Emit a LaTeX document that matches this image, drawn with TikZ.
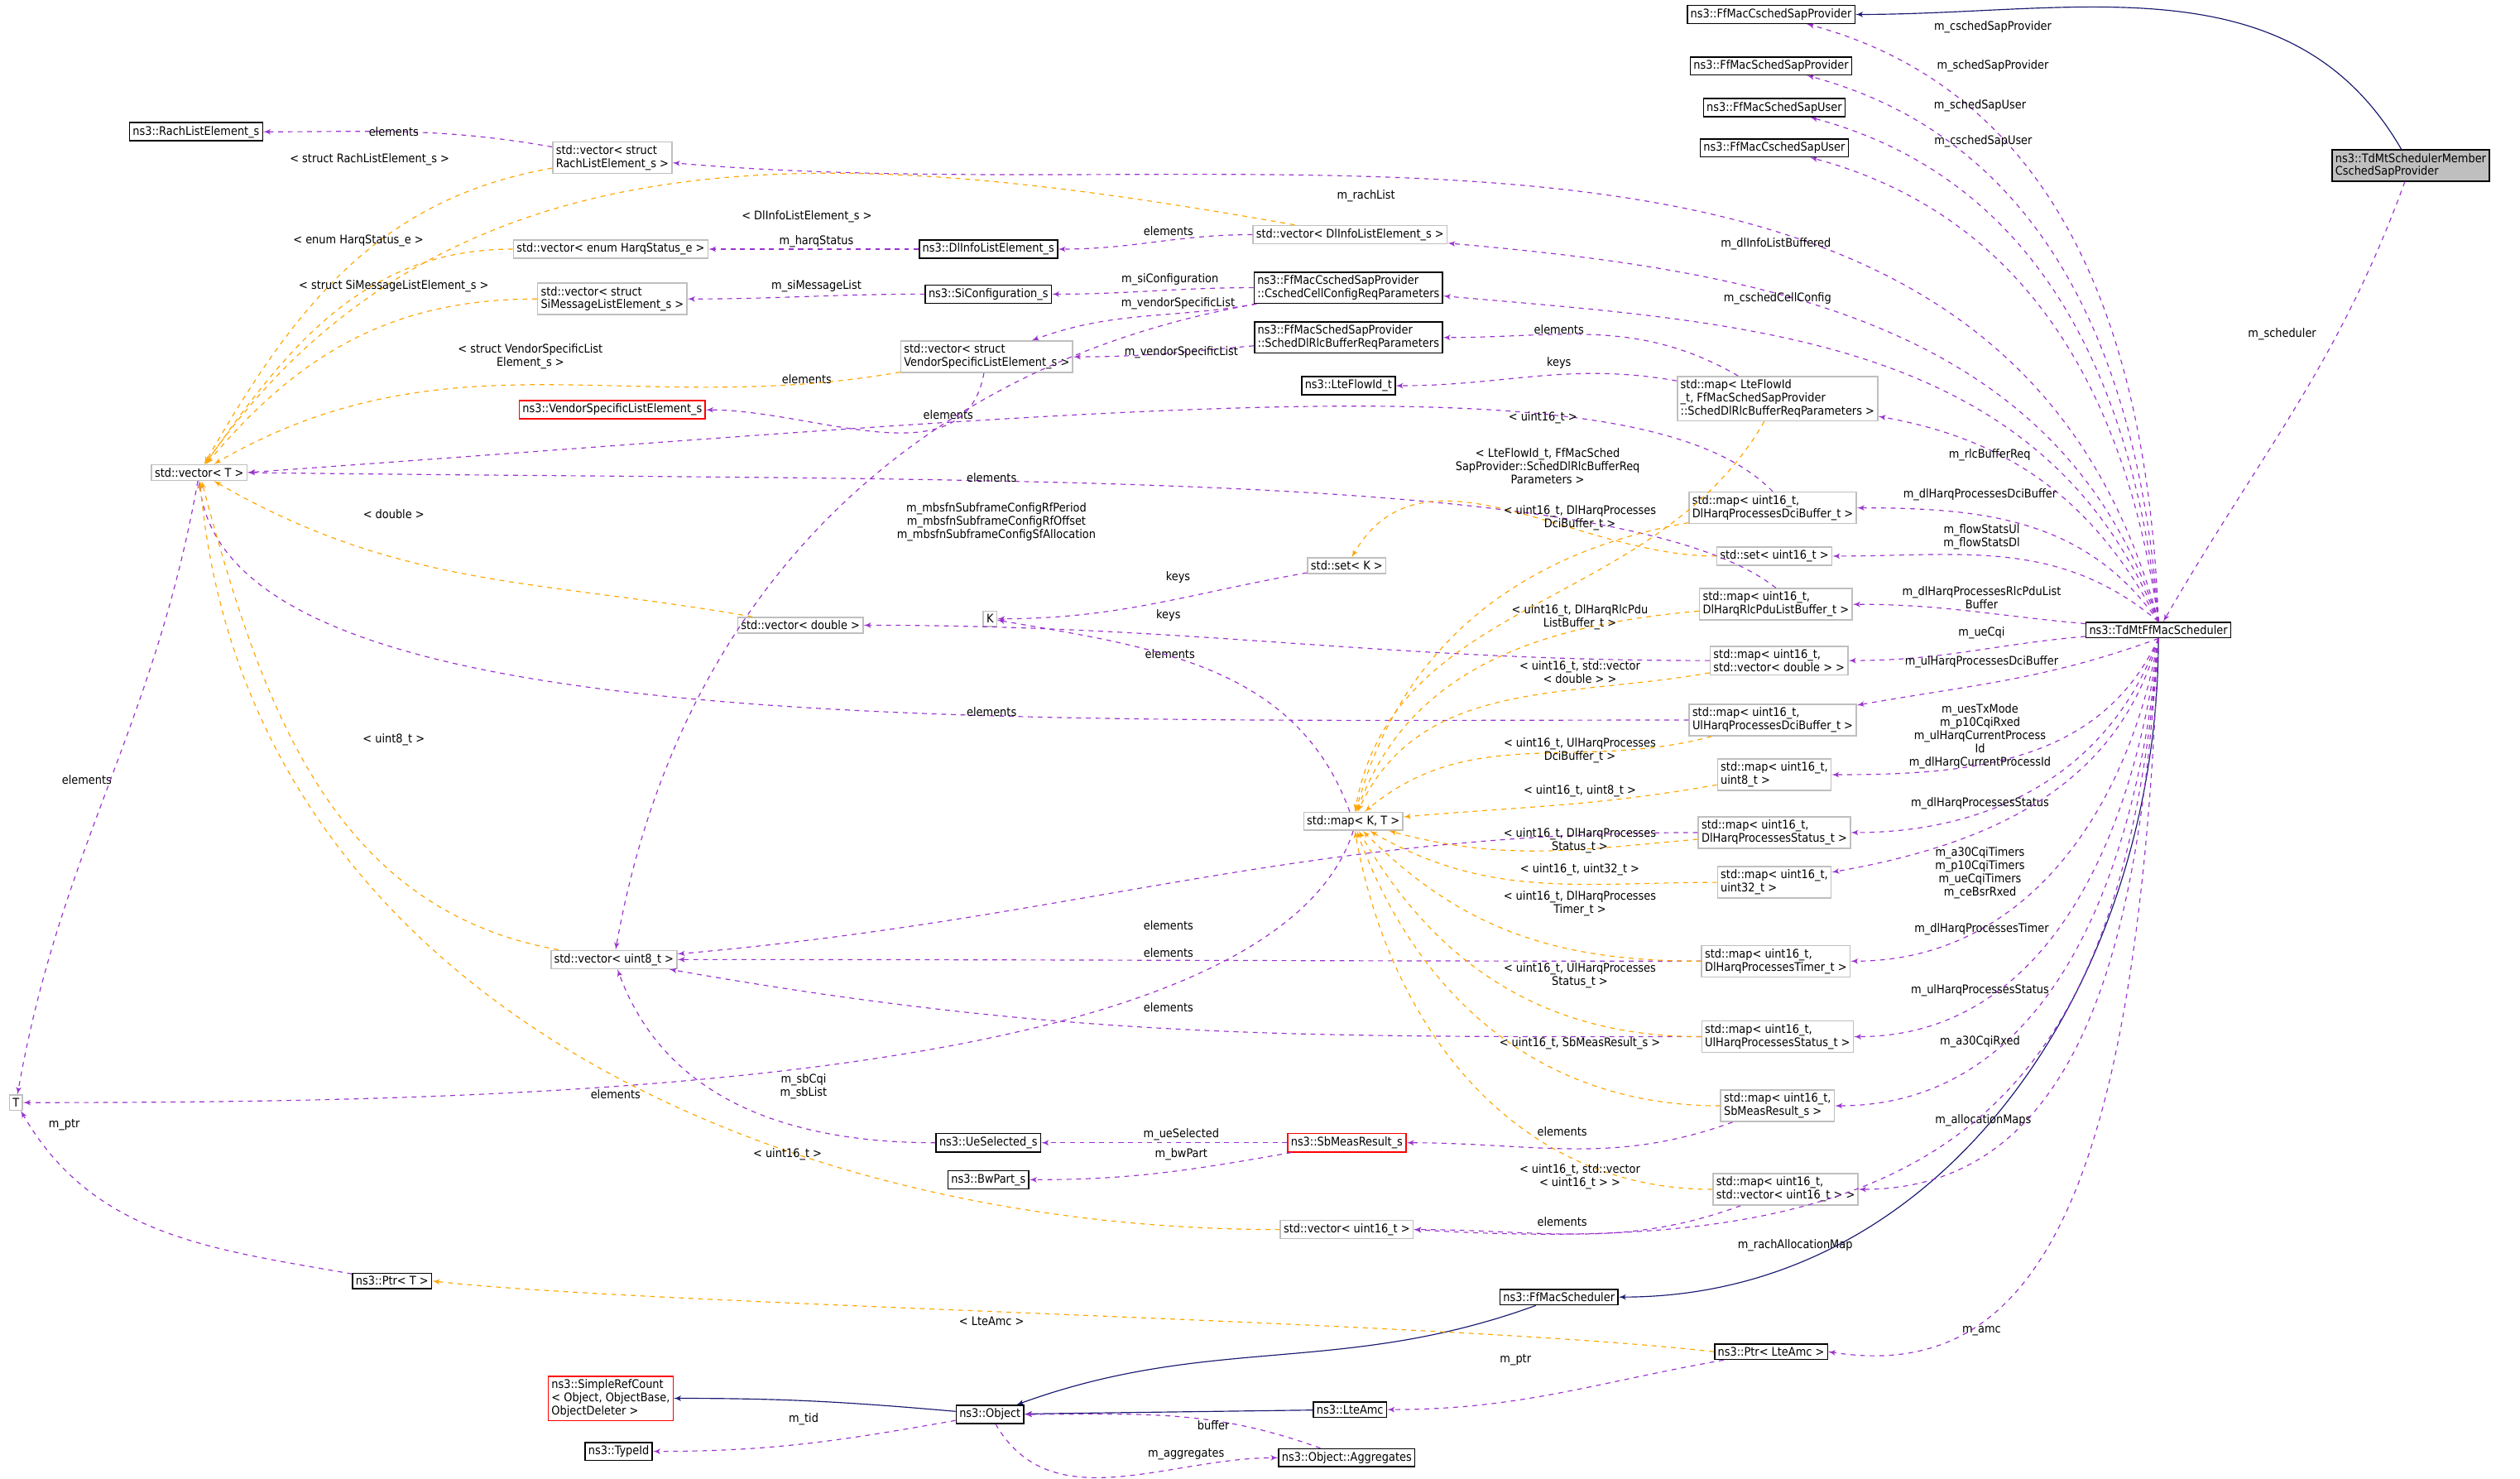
\documentclass[tikz,border=0pt]{standalone}
\usepackage{fontspec}
\setmainfont{DejaVu Sans Condensed}
\usepackage{tikz}
\usetikzlibrary{arrows}
\definecolor{usecol}{HTML}{9A32CD}
\definecolor{tplcol}{HTML}{FFA500}
\definecolor{inhcol}{HTML}{191970}
\definecolor{boxgray}{HTML}{BFBFBF}

\begin{document}
\begin{tikzpicture}[x=1pt,y=-1pt,font=\fontsize{7.4}{8.2}\selectfont]
    \tikzset{cls/.style = {draw,thick,align=left,inner sep=2pt}}
    \tikzset{tpl/.style = {draw=boxgray,thick,align=left,inner sep=2pt}}
    \tikzset{bad/.style = {draw=red,thick,align=left,inner sep=2pt}}
    \tikzset{use/.style = {->,> = latex',usecol,dashed,semithick}}
    \tikzset{inst/.style = {->,> = latex',tplcol,dashed,semithick}}
    \tikzset{inh/.style = {->,> = latex',inhcol,semithick}}
    \tikzset{lbl/.style = {black,align=center,inner sep=0pt}}
    \useasboundingbox (0,0) rectangle (1568,919.7);
    % classes on the right
    \node[cls] (cschedprov) at (1102,9) {ns3::FfMacCschedSapProvider};
    \node[cls] (schedprov) at (1102,41) {ns3::FfMacSchedSapProvider};
    \node[cls] (scheduser) at (1104,67) {ns3::FfMacSchedSapUser};
    \node[cls] (cscheduser) at (1104,92) {ns3::FfMacCschedSapUser};
    \node[cls,fill=boxgray] (member) at (1500,103) {ns3::TdMtSchedulerMember\\CschedSapProvider};
    \node[cls] (tdmt) at (1343,392) {ns3::TdMtFfMacScheduler};
    \node[cls] (ffsched) at (970,807) {ns3::FfMacScheduler};
    \node[cls] (ptramc) at (1102,841) {ns3::Ptr< LteAmc >};
    \node[cls] (lteamc) at (840,877) {ns3::LteAmc};
    \node[cls] (object) at (616,880) {ns3::Object};
    \node[bad] (refcount) at (380,870) {ns3::SimpleRefCount\\< Object, ObjectBase,\\ ObjectDeleter >};
    \node[cls] (typeid) at (385,903) {ns3::TypeId};
    \node[cls] (aggr) at (838,907) {ns3::Object::Aggregates};
    \node[cls] (ptrt) at (244,797) {ns3::Ptr< T >};
    \node[tpl] (t) at (10,686) {T};
    \node[tpl] (vect) at (124,294) {std::vector< T >};
    % left and middle
    \node[cls] (rachel) at (122,82) {ns3::RachListElement\_s};
    \node[tpl] (vecrach) at (381,98) {std::vector< struct\\ RachListElement\_s >};
    \node[tpl] (vecdlinfo) at (840,146) {std::vector< DlInfoListElement\_s >};
    \node[tpl] (vecharq) at (380,155) {std::vector< enum HarqStatus\_e >};
    \node[cls] (dlinfo) at (615,155) {ns3::DlInfoListElement\_s};
    \node[tpl] (vecsimsg) at (381,186) {std::vector< struct\\ SiMessageListElement\_s >};
    \node[cls] (siconf) at (615,183) {ns3::SiConfiguration\_s};
    \node[cls] (cellconf) at (839,179) {ns3::FfMacCschedSapProvider\\::CschedCellConfigReqParameters};
    \node[cls] (dlrlcreq) at (839,210) {ns3::FfMacSchedSapProvider\\::SchedDlRlcBufferReqParameters};
    \node[tpl] (vecvendor) at (614,222) {std::vector< struct\\ VendorSpecificListElement\_s >};
    \node[bad] (vendor) at (381,255) {ns3::VendorSpecificListElement\_s};
    \node[cls] (flowid) at (839,240) {ns3::LteFlowId\_t};
    \node[tpl] (mapflow) at (1106,248) {std::map< LteFlowId\\\_t, FfMacSchedSapProvider\\::SchedDlRlcBufferReqParameters >};
    \node[tpl] (mapdldci) at (1103,316) {std::map< uint16\_t,\\ DlHarqProcessesDciBuffer\_t >};
    \node[tpl] (set16) at (1104,346) {std::set< uint16\_t >};
    \node[tpl] (setk) at (838,352) {std::set< K >};
    \node[tpl] (k) at (616,385) {K};
    \node[tpl] (maprlcpdu) at (1105,376) {std::map< uint16\_t,\\ DlHarqRlcPduListBuffer\_t >};
    \node[tpl] (vecdouble) at (498,389) {std::vector< double >};
    \node[tpl] (mapvecdbl) at (1107,411) {std::map< uint16\_t,\\ std::vector< double > >};
    \node[tpl] (mapuldci) at (1103,448) {std::map< uint16\_t,\\ UlHarqProcessesDciBuffer\_t >};
    \node[tpl] (map8) at (1104,482) {std::map< uint16\_t,\\ uint8\_t >};
    \node[tpl] (mapkt) at (842,511) {std::map< K, T >};
    \node[tpl] (mapdlstat) at (1104,518) {std::map< uint16\_t,\\ DlHarqProcessesStatus\_t >};
    \node[tpl] (map32) at (1104,549) {std::map< uint16\_t,\\ uint32\_t >};
    \node[tpl] (mapdltimer) at (1105,598) {std::map< uint16\_t,\\ DlHarqProcessesTimer\_t >};
    \node[tpl] (mapulstat) at (1106,645) {std::map< uint16\_t,\\ UlHarqProcessesStatus\_t >};
    \node[tpl] (mapsb) at (1106,688) {std::map< uint16\_t,\\ SbMeasResult\_s >};
    \node[tpl] (vec8) at (382,597) {std::vector< uint8\_t >};
    \node[cls] (uesel) at (615,711) {ns3::UeSelected\_s};
    \node[bad] (sbmeas) at (838,711) {ns3::SbMeasResult\_s};
    \node[cls] (bwpart) at (615,734) {ns3::BwPart\_s};
    \node[tpl] (mapvec16) at (1111,740) {std::map< uint16\_t,\\ std::vector< uint16\_t > >};
    \node[tpl] (vec16) at (838,765) {std::vector< uint16\_t >};
    % inheritance
    \draw[inh] (member) to[out=120,in=0] (cschedprov);
    \draw[inh] (tdmt.south) to[out=-90,in=0] (ffsched);
    \draw[inh] (ffsched) to[out=200,in=20] (object);
    \draw[inh] (lteamc) -- (object);
    \draw[inh] (object) to[out=175,in=0] (refcount);
    % members of the scheduler
    \draw[use] (member) to[out=-110,in=60] (tdmt) node[lbl] at (1420,208) {m\_scheduler};
    \draw[use] (tdmt.north) to[out=92,in=-15] (cschedprov) node[lbl] at (1240,17) {m\_cschedSapProvider};
    \draw[use] (tdmt.north) to[out=94,in=-15] (schedprov) node[lbl] at (1240,41) {m\_schedSapProvider};
    \draw[use] (tdmt.north) to[out=96,in=-15] (scheduser) node[lbl] at (1232,66) {m\_schedSapUser};
    \draw[use] (tdmt.north) to[out=98,in=-15] (cscheduser) node[lbl] at (1234,88) {m\_cschedSapUser};
    \draw[use] (tdmt.north) to[out=105,in=-5] (vecrach) node[lbl] at (850,122) {m\_rachList};
    \draw[use] (tdmt.north) to[out=108,in=-5] (vecdlinfo) node[lbl] at (1105,152) {m\_dlInfoListBuffered};
    \draw[use] (tdmt.north) to[out=112,in=-5] (cellconf) node[lbl] at (1106,186) {m\_cschedCellConfig};
    \draw[use] (tdmt.north) to[out=118,in=-10] (mapflow) node[lbl] at (1238,283) {m\_rlcBufferReq};
    \draw[use] (tdmt.north) to[out=125,in=0] (mapdldci) node[lbl] at (1232,308) {m\_dlHarqProcessesDciBuffer};
    \draw[use] (tdmt.north) to[out=140,in=0] (set16) node[lbl] at (1233,334) {m\_flowStatsUl\\m\_flowStatsDl};
    \draw[use] (tdmt) to[out=175,in=0] (maprlcpdu) node[lbl] at (1233,372) {m\_dlHarqProcessesRlcPduList\\Buffer};
    \draw[use] (tdmt) to[out=185,in=0] (mapvecdbl) node[lbl] at (1233,394) {m\_ueCqi};
    \draw[use] (tdmt.south) to[out=200,in=10] (mapuldci) node[lbl] at (1233,412) {m\_ulHarqProcessesDciBuffer};
    \draw[use] (tdmt.south) to[out=-115,in=0] (map8) node[lbl] at (1232,458) {m\_uesTxMode\\m\_p10CqiRxed\\m\_ulHarqCurrentProcess\\Id\\m\_dlHarqCurrentProcessId};
    \draw[use] (tdmt.south) to[out=-110,in=0] (mapdlstat) node[lbl] at (1232,500) {m\_dlHarqProcessesStatus};
    \draw[use] (tdmt.south) to[out=-105,in=10] (map32) node[lbl] at (1232,543) {m\_a30CqiTimers\\m\_p10CqiTimers\\m\_ueCqiTimers\\m\_ceBsrRxed};
    \draw[use] (tdmt.south) to[out=-100,in=0] (mapdltimer) node[lbl] at (1233,578) {m\_dlHarqProcessesTimer};
    \draw[use] (tdmt.south) to[out=-97,in=0] (mapulstat) node[lbl] at (1232,616) {m\_ulHarqProcessesStatus};
    \draw[use] (tdmt.south) to[out=-95,in=0] (mapsb) node[lbl] at (1232,648) {m\_a30CqiRxed};
    \draw[use] (tdmt.south) to[out=-94,in=0] (mapvec16) node[lbl] at (1234,697) {m\_allocationMaps};
    \draw[use] (tdmt.south) .. controls (1320,700) and (1200,785) .. (vec16.east) node[lbl] at (1117,775) {m\_rachAllocationMap};
    \draw[use] (tdmt.south) .. controls (1330,760) and (1260,860) .. (ptramc.east) node[lbl] at (1233,828) {m\_amc};
    % other members
    \draw[use] (vecrach) to[out=170,in=0] (rachel) node[lbl] at (245,82) {elements};
    \draw[use] (vecdlinfo) to[out=180,in=0] (dlinfo) node[lbl] at (727,144) {elements};
    \draw[use] (dlinfo) to[out=180,in=0] (vecharq) node[lbl] at (508,150) {m\_harqStatus};
    \draw[use] (siconf) to[out=180,in=0] (vecsimsg) node[lbl] at (508,178) {m\_siMessageList};
    \draw[use] (cellconf) to[out=180,in=0] (siconf) node[lbl] at (728,174) {m\_siConfiguration};
    \draw[use] (cellconf) to[out=190,in=20] (vecvendor) node[lbl] at (733,189) {m\_vendorSpecificList};
    \draw[use] (dlrlcreq) to[out=185,in=0] (vecvendor) node[lbl] at (735,219) {m\_vendorSpecificList};
    \draw[use] (vecvendor) to[out=-100,in=0] (vendor) node[lbl] at (502,236) {elements};
    \draw[use] (mapflow) to[out=150,in=0] (dlrlcreq) node[lbl] at (970,205) {elements};
    \draw[use] (mapflow) to[out=170,in=0] (flowid) node[lbl] at (970,226) {keys};
    \draw[use] (mapdldci.north) .. controls (1020,220) and (700,255) .. (vect.east) node[lbl] at (590,258) {elements};
    \draw[use] (maprlcpdu.north) .. controls (1010,290) and (600,300) .. (vect.east) node[lbl] at (617,297) {elements};
    \draw[use] (mapvecdbl) to[out=180,in=0] (vecdouble) node[lbl] at (728,407) {elements};
    \draw[use] (mapuldci.west) .. controls (600,448) and (140,460) .. (vect.south) node[lbl] at (617,443) {elements};
    \draw[use] (setk) to[out=190,in=0] (k) node[lbl] at (733,359) {keys};
    \draw[use] (mapkt) to[out=110,in=-10] (k) node[lbl] at (727,383) {keys};
    \draw[use] (mapkt.south) .. controls (790,680) and (300,686) .. (t.east) node[lbl] at (383,681) {elements};
    \draw[use] (vect) to[out=-100,in=80] (t) node[lbl] at (54,485) {elements};
    \draw[use] (ptrt) to[out=170,in=-60] (t) node[lbl] at (40,700) {m\_ptr};
    \draw[use] (cellconf) to[out=190,in=80] (vec8) node[lbl] at (620,325) {m\_mbsfnSubframeConfigRfPeriod\\m\_mbsfnSubframeConfigRfOffset\\m\_mbsfnSubframeConfigSfAllocation};
    \draw[use] (mapdlstat) to[out=180,in=5] (vec8) node[lbl] at (727,576) {elements};
    \draw[use] (mapdltimer) to[out=180,in=0] (vec8) node[lbl] at (727,593) {elements};
    \draw[use] (mapulstat) to[out=180,in=-10] (vec8) node[lbl] at (727,627) {elements};
    \draw[use] (uesel) to[out=180,in=-70] (vec8) node[lbl] at (500,676) {m\_sbCqi\\m\_sbList};
    \draw[use] (mapsb) to[out=-160,in=0] (sbmeas) node[lbl] at (972,704) {elements};
    \draw[use] (sbmeas) to[out=180,in=0] (uesel) node[lbl] at (735,706) {m\_ueSelected};
    \draw[use] (sbmeas) to[out=190,in=0] (bwpart) node[lbl] at (735,718) {m\_bwPart};
    \draw[use] (mapvec16) to[out=-160,in=0] (vec16) node[lbl] at (972,760) {elements};
    \draw[use] (ptramc) to[out=190,in=0] (lteamc) node[lbl] at (943,846) {m\_ptr};
    \draw[use] (object) to[out=190,in=0] (typeid) node[lbl] at (500,883) {m\_tid};
    \draw[use] (object) to[out=-60,in=180] (aggr) node[lbl] at (738,905) {m\_aggregates};
    \draw[use] (aggr) to[out=160,in=0] (object) node[lbl] at (755,887) {buffer};
    % template instances
    \draw[inst] (vecrach) to[out=190,in=60] (vect) node[lbl] at (230,99) {< struct RachListElement\_s >};
    \draw[inst] (vecdlinfo) to[out=170,in=55] (vect) node[lbl] at (502,135) {< DlInfoListElement\_s >};
    \draw[inst] (vecharq) to[out=180,in=55] (vect) node[lbl] at (223,150) {< enum HarqStatus\_e >};
    \draw[inst] (vecsimsg) to[out=180,in=50] (vect) node[lbl] at (245,178) {< struct SiMessageListElement\_s >};
    \draw[inst] (vecvendor) to[out=190,in=30] (vect) node[lbl] at (330,222) {< struct VendorSpecificList\\Element\_s >};
    \draw[inst] (vecdouble) to[out=170,in=-30] (vect) node[lbl] at (245,320) {< double >};
    \draw[inst] (vec8) to[out=170,in=-75] (vect) node[lbl] at (245,460) {< uint8\_t >};
    \draw[inst] (vec16) to[out=180,in=-85] (vect) node[lbl] at (490,718) {< uint16\_t >};
    \draw[inst] (ptramc.west) .. controls (900,822) and (400,812) .. (ptrt.east) node[lbl] at (617,822) {< LteAmc >};
    \draw[inst] (set16) to[out=180,in=60] (setk) node[lbl] at (960,260) {< uint16\_t >};
    \draw[inst] (mapflow) to[out=-120,in=80] (mapkt) node[lbl] at (963,290) {< LteFlowId\_t, FfMacSched\\SapProvider::SchedDlRlcBufferReq\\Parameters >};
    \draw[inst] (mapdldci) to[out=190,in=75] (mapkt) node[lbl] at (983,322) {< uint16\_t, DlHarqProcesses\\DciBuffer\_t >};
    \draw[inst] (maprlcpdu) to[out=185,in=70] (mapkt) node[lbl] at (983,384) {< uint16\_t, DlHarqRlcPdu\\ListBuffer\_t >};
    \draw[inst] (mapvecdbl) to[out=190,in=65] (mapkt) node[lbl] at (983,418) {< uint16\_t, std::vector\\< double > >};
    \draw[inst] (mapuldci) to[out=195,in=40] (mapkt) node[lbl] at (983,467) {< uint16\_t, UlHarqProcesses\\DciBuffer\_t >};
    \draw[inst] (map8) to[out=190,in=5] (mapkt) node[lbl] at (983,492) {< uint16\_t, uint8\_t >};
    \draw[inst] (mapdlstat) to[out=185,in=-15] (mapkt) node[lbl] at (983,523) {< uint16\_t, DlHarqProcesses\\Status\_t >};
    \draw[inst] (map32) to[out=180,in=-30] (mapkt) node[lbl] at (983,541) {< uint16\_t, uint32\_t >};
    \draw[inst] (mapdltimer) to[out=180,in=-45] (mapkt) node[lbl] at (983,562) {< uint16\_t, DlHarqProcesses\\Timer\_t >};
    \draw[inst] (mapulstat) to[out=180,in=-60] (mapkt) node[lbl] at (983,607) {< uint16\_t, UlHarqProcesses\\Status\_t >};
    \draw[inst] (mapsb) to[out=180,in=-70] (mapkt) node[lbl] at (983,649) {< uint16\_t, SbMeasResult\_s >};
    \draw[inst] (mapvec16) to[out=180,in=-80] (mapkt) node[lbl] at (983,732) {< uint16\_t, std::vector\\< uint16\_t > >};
\end{tikzpicture}
\end{document}
